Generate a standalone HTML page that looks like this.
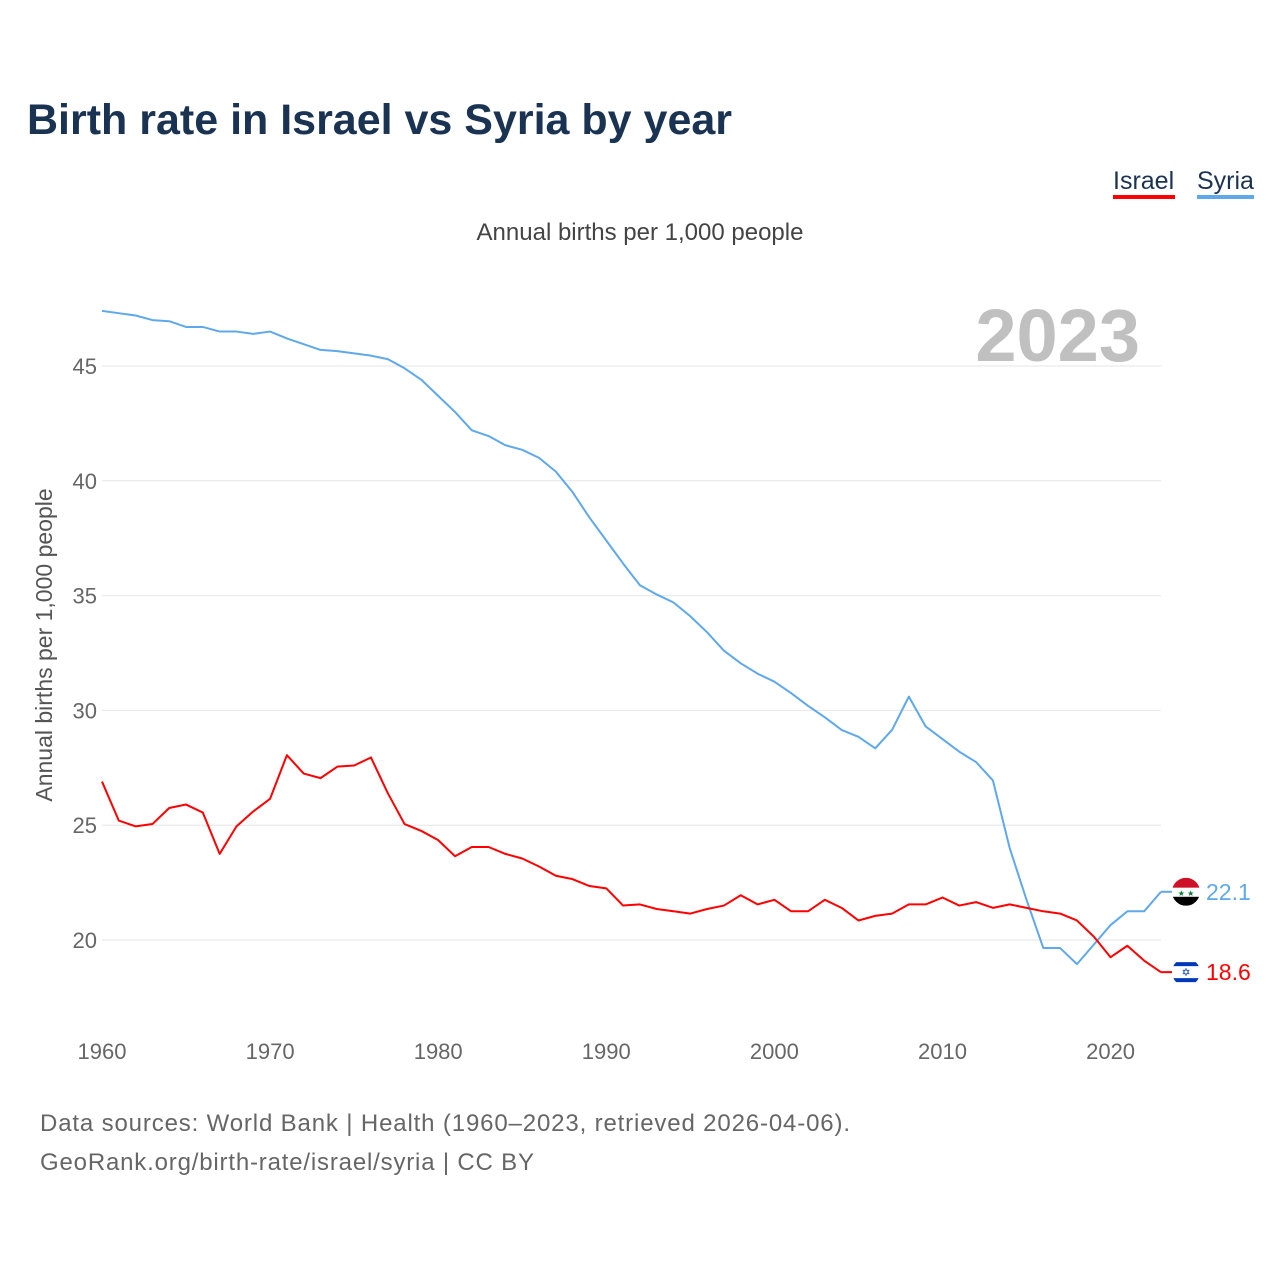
<!DOCTYPE html>
<html><head><meta charset="utf-8"><style>
body{margin:0;width:1280px;height:1280px;background:#fff;font-family:"Liberation Sans",sans-serif;overflow:hidden}
svg text{font-family:"Liberation Sans",sans-serif}
</style></head><body>
<svg width="1280" height="1280">
<defs id="defs"></defs>
<text x="27" y="134" font-size="43" font-weight="bold" fill="#1b3352" textLength="705">Birth rate in Israel vs Syria by year</text>
<g><text x="1113" y="189" font-size="25" fill="#1b3352">Israel</text><rect x="1113" y="195" width="62" height="4" fill="#ff0000"/></g>
<g><text x="1197" y="189" font-size="25" fill="#1b3352">Syria</text><rect x="1197" y="195" width="57" height="4" fill="#5fa8ec"/></g>
<text x="640" y="240" font-size="24" fill="#444" text-anchor="middle">Annual births per 1,000 people</text>
<text x="1140" y="361" font-size="74" font-weight="bold" fill="#c0c0c0" text-anchor="end">2023</text>
<text transform="translate(52,645) rotate(-90)" font-size="23" fill="#555" text-anchor="middle">Annual births per 1,000 people</text>
<g id="grid"></g><g id="lines"></g><g id="labels"></g>
<text x="40" y="1131" font-size="24" fill="#666" textLength="810">Data sources: World Bank | Health (1960–2023, retrieved 2026-04-06).</text>
<text x="40" y="1170" font-size="24" fill="#666" textLength="494">GeoRank.org/birth-rate/israel/syria | CC BY</text>
</svg>
<script>
const years=[];for(let y=1960;y<=2023;y++)years.push(y);
const syria=[47.4,47.3,47.2,47.0,46.95,46.7,46.7,46.5,46.5,46.4,46.5,46.2,45.95,45.7,45.65,45.55,45.45,45.3,44.9,44.4,43.7,43.0,42.2,41.95,41.55,41.35,41.0,40.4,39.5,38.4,37.4,36.4,35.45,35.05,34.7,34.1,33.4,32.6,32.05,31.6,31.25,30.75,30.2,29.7,29.15,28.85,28.35,29.15,30.6,29.3,28.75,28.2,27.75,26.95,24.0,21.75,19.65,19.65,18.95,19.8,20.65,21.25,21.25,22.1];
const israel=[26.9,25.2,24.95,25.05,25.75,25.9,25.55,23.75,24.95,25.6,26.15,28.05,27.25,27.05,27.55,27.6,27.95,26.4,25.05,24.75,24.35,23.65,24.05,24.05,23.75,23.55,23.2,22.8,22.65,22.35,22.25,21.5,21.55,21.35,21.25,21.15,21.35,21.5,21.95,21.55,21.75,21.25,21.25,21.75,21.4,20.85,21.05,21.15,21.55,21.55,21.85,21.5,21.65,21.4,21.55,21.4,21.25,21.15,20.85,20.15,19.25,19.75,19.1,18.6];
const yTicks=[20,25,30,35,40,45];
const xTicks=[1960,1970,1980,1990,2000,2010,2020];
const NS="http://www.w3.org/2000/svg";
const X=y=>102+(y-1960)*(1161-102)/63;
const Y=v=>940-(v-20)*(940-366)/25;
function mk(t,a,p){const e=document.createElementNS(NS,t);for(const k in a)e.setAttribute(k,a[k]);p.appendChild(e);return e;}
const G=document.getElementById('grid'),L=document.getElementById('lines'),T=document.getElementById('labels'),D=document.getElementById('defs');
yTicks.forEach(v=>{
const l=mk('line',{x1:102,x2:1161,y1:Y(v),y2:Y(v),stroke:'#e6e6e6','stroke-width':1},G);


const t=mk('text',{x:97,y:Y(v)+8,'font-size':22,fill:'#666','text-anchor':'end'},G);t.textContent=v;


});
xTicks.forEach(y=>{
const t=mk('text',{x:X(y),y:1059,'font-size':22,fill:'#666','text-anchor':'middle'},G);t.textContent=y;


});
function line(d,c,n){
const p=mk('polyline',{points:d.map((v,i)=>X(years[i])+','+Y(v)).join(' '),fill:'none',stroke:c,'stroke-width':2,'stroke-linejoin':'round'},L);


}
line(syria,'#5fa8ec','syria-line');line(israel,'#ff0000','israel-line');
function end(d,c,n,flag){
const v=d[d.length-1],x=X(2023),y=Y(v);
mk('line',{x1:x,x2:x+12,y1:y,y2:y,stroke:c,'stroke-width':2},T);
const cx=x+25;
const cp=mk('clipPath',{id:'cp-'+n},D);mk('circle',{cx:cx,cy:y,r:14},cp);
const g=mk('g',{'clip-path':'url(#cp-'+n+')'},T);


if(flag==='sy'){mk('rect',{x:cx-14,y:y-14,width:28,height:10,fill:'#ce1126'},g);mk('rect',{x:cx-14,y:y-4,width:28,height:9,fill:'#fff'},g);mk('rect',{x:cx-14,y:y+5,width:28,height:9,fill:'#000'},g);
const s=mk('text',{x:cx,y:y+4,'font-size':8,fill:'#007a3d','text-anchor':'middle'},g);s.textContent='★ ★';}
else{mk('rect',{x:cx-14,y:y-14,width:28,height:28,fill:'#fff'},g);mk('rect',{x:cx-14,y:y-10,width:28,height:4,fill:'#0038b8'},g);mk('rect',{x:cx-14,y:y+6,width:28,height:4,fill:'#0038b8'},g);const s=mk('text',{x:cx,y:y+4,'font-size':11,fill:'#0038b8','text-anchor':'middle'},g);s.textContent='✡';}
const t=mk('text',{x:x+45,y:y+8,'font-size':23,fill:c},T);t.textContent=v.toFixed(1);


}
end(syria,'#5fa8ec','syria','sy');end(israel,'#ff0000','israel','il');
</script>
</body></html>
